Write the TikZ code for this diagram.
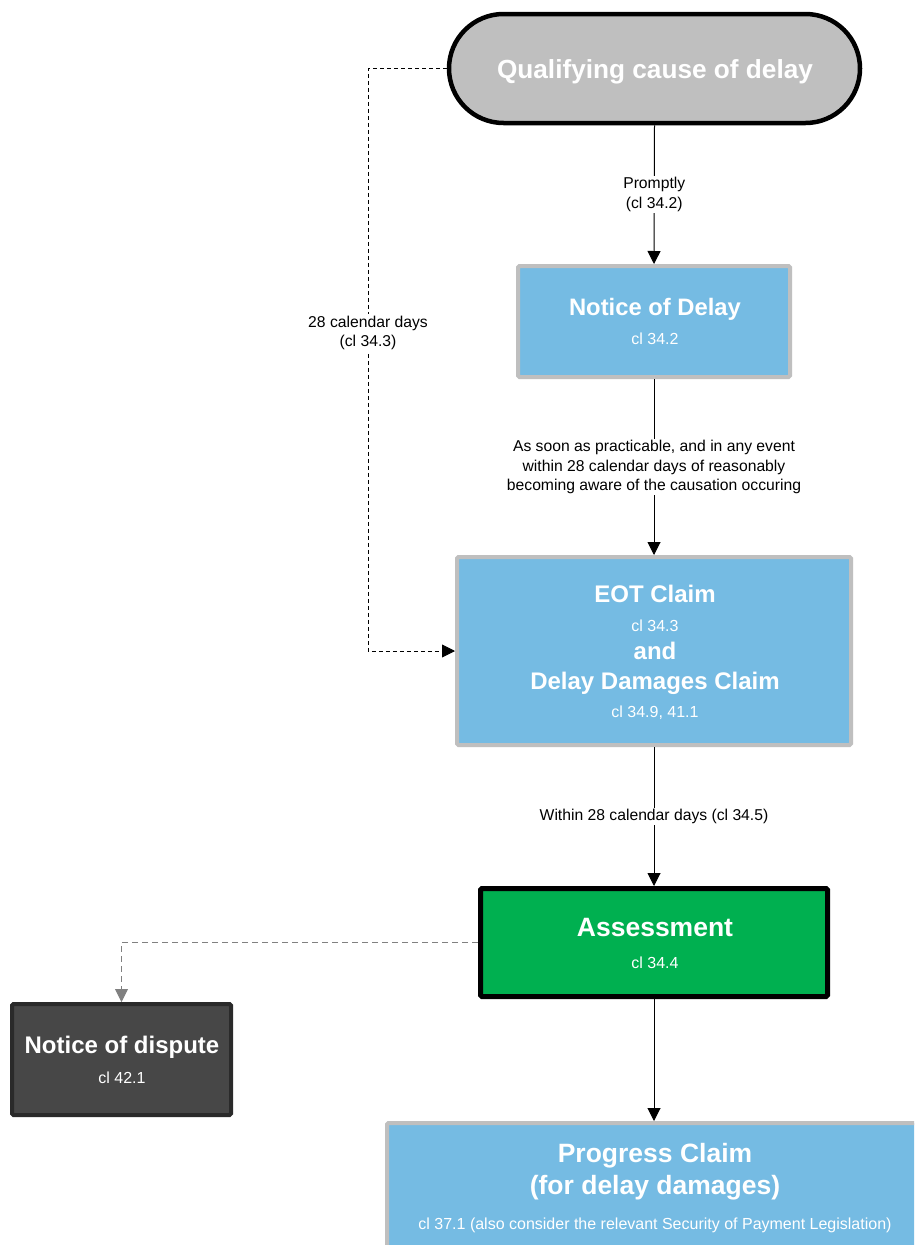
\documentclass[tikz,border=0pt]{standalone}
\usepackage{fontspec}
\setmainfont{Liberation Sans}
\usetikzlibrary{arrows.meta,shapes.misc}
\definecolor{boxblue}{HTML}{75BBE3}
\definecolor{boxgray}{HTML}{BFBFBF}
\definecolor{boxgreen}{HTML}{00B050}
\definecolor{darkfill}{HTML}{474747}
\definecolor{darkline}{HTML}{2A2A2A}
\definecolor{dashgray}{HTML}{808080}
\tikzset{
  tbox/.style={rectangle, inner sep=0pt, rounded corners=1.5pt},
  bluebox/.style={tbox, draw=boxgray, fill=boxblue, line width=4pt},
  greenbox/.style={tbox, draw=black, fill=boxgreen, line width=5pt},
  darkbox/.style={tbox, draw=darkline, fill=darkfill, line width=4pt},
  startbox/.style={rounded rectangle, inner sep=0pt, draw=black, fill=boxgray, line width=4.5pt},
  ttl/.style={text=white, anchor=base, inner sep=0pt, font=\fontsize{#1}{#1}\selectfont\bfseries},
  ttl/.default=24,
  sub/.style={text=white, anchor=base, inner sep=0pt, font=\fontsize{16}{18}\selectfont},
  lbl/.style={fill=white, align=center, inner sep=1.5pt, font=\fontsize{15.7}{19.5}\selectfont},
  conn/.style={draw=black, line width=1pt, -{Triangle[length=13pt,width=13pt]}},
  dashconn/.style={draw=black, line width=0.9pt, dash pattern=on 4pt off 3pt, -{Triangle[length=13pt,width=13pt]}},
  grayconn/.style={draw=dashgray, line width=0.9pt, dash pattern=on 6pt off 4pt, -{Triangle[length=13pt,width=13pt]}},
}
\begin{document}
\begin{tikzpicture}[x=1pt,y=-1pt]
\clip (0,0) rectangle (914,1245);
\fill[white] (0,0) rectangle (914,1245);

% boxes
\node[startbox, minimum width=411pt, minimum height=109pt] (q) at (654.5,68.5) {};
\node[bluebox, minimum width=272pt, minimum height=111pt] (nd) at (654,321.5) {};
\node[bluebox, minimum width=394pt, minimum height=188pt] (eot) at (654,651) {};
\node[greenbox, minimum width=347pt, minimum height=108pt] (as) at (654,942.5) {};
\node[darkbox, minimum width=219pt, minimum height=111pt] (dis) at (121.5,1059.5) {};
\node[bluebox, minimum width=534pt, minimum height=195pt] (pc) at (654,1220.5) {};

% texts
\node[ttl=26.2] (qt) at (655,78) {Qualifying cause of delay};
\node[ttl=23.8] (ndt) at (655,315) {Notice of Delay};
\node[sub] (nds) at (655,344) {cl 34.2};
\node[ttl=24] (eott) at (655,602) {EOT Claim};
\node[sub] (eots) at (655,631) {cl 34.3};
\node[ttl=24] (eota) at (655,659) {and};
\node[ttl=24] (eott2) at (655,689) {Delay Damages Claim};
\node[sub] (eots2) at (655,717) {cl 34.9, 41.1};
\node[ttl=26.5] (ast) at (655,936) {Assessment};
\node[sub] (ass) at (655,968) {cl 34.4};
\node[ttl=24] (dist) at (122,1053) {Notice of dispute};
\node[sub] (diss) at (122,1083) {cl 42.1};
\node[ttl=26.5] (pct) at (655,1162) {Progress Claim};
\node[ttl=26.5] (pct2) at (655,1194) {(for delay damages)};
\node[sub] (pcs) at (655,1229) {cl 37.1 (also consider the relevant Security of Payment Legislation)};

% connectors
\draw[conn] (q.south) -- node[lbl] (l1) {Promptly\\(cl 34.2)} (nd.north);
\draw[conn] (nd.south) -- node[lbl] (l2) {As soon as practicable, and in any event\\within 28 calendar days of reasonably\\becoming aware of the causation occuring} (eot.north);
\draw[conn] (eot.south) -- node[lbl] (l3) {Within 28 calendar days (cl 34.5)} (as.north);
\draw[conn] (as.south) -- (pc.north);
\coordinate (dl) at (368,68.5);
\draw[dashconn] (q.west) -- (dl) |- node[lbl, pos=0.227] (l4) {28 calendar days\\(cl 34.3)} (eot.west);
\draw[grayconn] (as.west) -| (dis.north);
\end{tikzpicture}
\end{document}
